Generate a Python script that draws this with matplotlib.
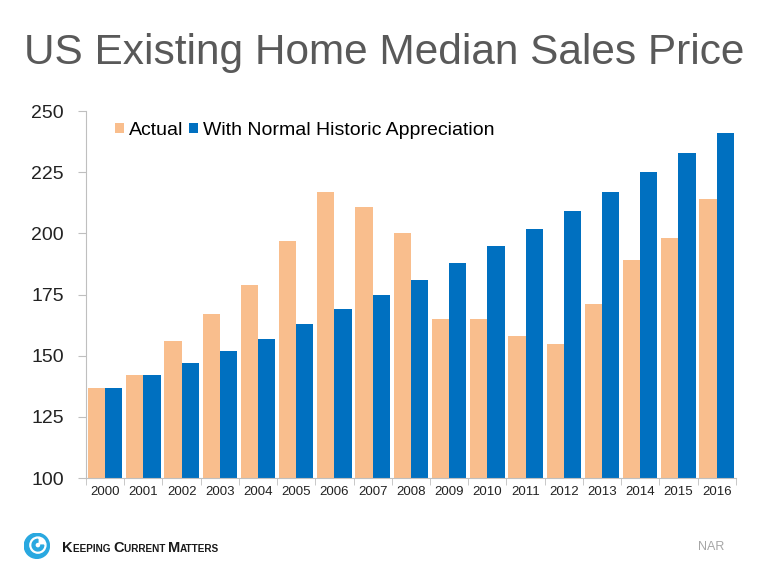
import numpy as np
import matplotlib.pyplot as plt
from matplotlib.patches import Circle, Wedge

plt.rcParams['font.family'] = ['Liberation Sans', 'DejaVu Sans']

# data
years = [str(y) for y in range(2000, 2017)]
actual = [137, 142, 156, 167, 179, 197, 217, 211, 200,
          165, 165, 158, 155, 171, 189, 198, 214]
normal = [137, 142, 147, 152, 157, 163, 169, 175, 181,
          188, 195, 202, 209, 217, 225, 233, 241]
yticks = [100, 125, 150, 175, 200, 225, 250]

peach = '#F9BE8D'
blue = '#0070C0'
axis_gray = '#BFBFBF'

fig = plt.figure(figsize=(7.68, 5.76), dpi=100)
ax = fig.add_axes([0.112, 0.170, 0.846, 0.637])

x = np.arange(len(years))
w = 0.45
ax.bar(x - w / 2, actual, w, color=peach, label='Actual')
ax.bar(x + w / 2, normal, w, color=blue, label='With Normal Historic Appreciation')

ax.set_xlim(-0.5, len(years) - 0.5)
ax.set_ylim(100, 250)
ax.set_yticks(yticks)
ax.set_yticklabels([str(t) for t in yticks], fontsize=14, color='#222222')

# x labels centered, ticks between groups
ax.set_xticks(x)
ax.set_xticklabels(years, fontsize=9.5, color='#222222')
ax.tick_params(axis='x', length=0, pad=6)
ax.set_xticks(np.arange(-0.5, len(years)), minor=True)
ax.tick_params(axis='x', which='minor', length=5, color=axis_gray)
ax.tick_params(axis='y', length=6, color=axis_gray, pad=10)

for side in ['top', 'right']:
    ax.spines[side].set_visible(False)
for side in ['left', 'bottom']:
    ax.spines[side].set_color(axis_gray)

ax.legend(loc='upper left', bbox_to_anchor=(0.027, 1.003), ncol=2, frameon=False,
          fontsize=14, handlelength=0.46, handleheight=0.46, handletextpad=0.25,
          columnspacing=0.3, borderaxespad=0.2)

fig.text(0.5, 0.908, 'US Existing Home Median Sales Price', ha='center', va='center',
         fontsize=30.5, color='#595959')

# footer: small-caps logo text, pieces chained left to right
renderer = fig.canvas.get_renderer()
pieces = [('K', 10.5), ('EEPING ', 7.2), ('C', 10.5), ('URRENT ', 7.2), ('M', 10.5), ('ATTERS', 7.2)]
xpos = 62
for txt, size in pieces:
    t = fig.text(xpos / 768, 1 - 552 / 576, txt, fontsize=size, fontweight='bold',
                 color='#1a1a1a', va='baseline', ha='left')
    bb = t.get_window_extent(renderer)
    xpos += bb.width

logo = fig.add_axes([0.031, 0.030, 0.034, 0.045])
logo.set_xlim(-1, 1)
logo.set_ylim(-1, 1)
logo.set_aspect('equal')
logo.axis('off')
logo.add_patch(Circle((0, 0), 0.97, color='#29A8E0'))
logo.add_patch(Circle((0.08, 0.05), 0.62, color='white'))
logo.add_patch(Wedge((0.08, 0.05), 0.45, 90, 360, width=0.22, color='#29A8E0'))

fig.text(0.926, 0.050, 'NAR', fontsize=9, color='#A6A6A6', ha='center', va='center')

fig.savefig('out.png', dpi=100)
